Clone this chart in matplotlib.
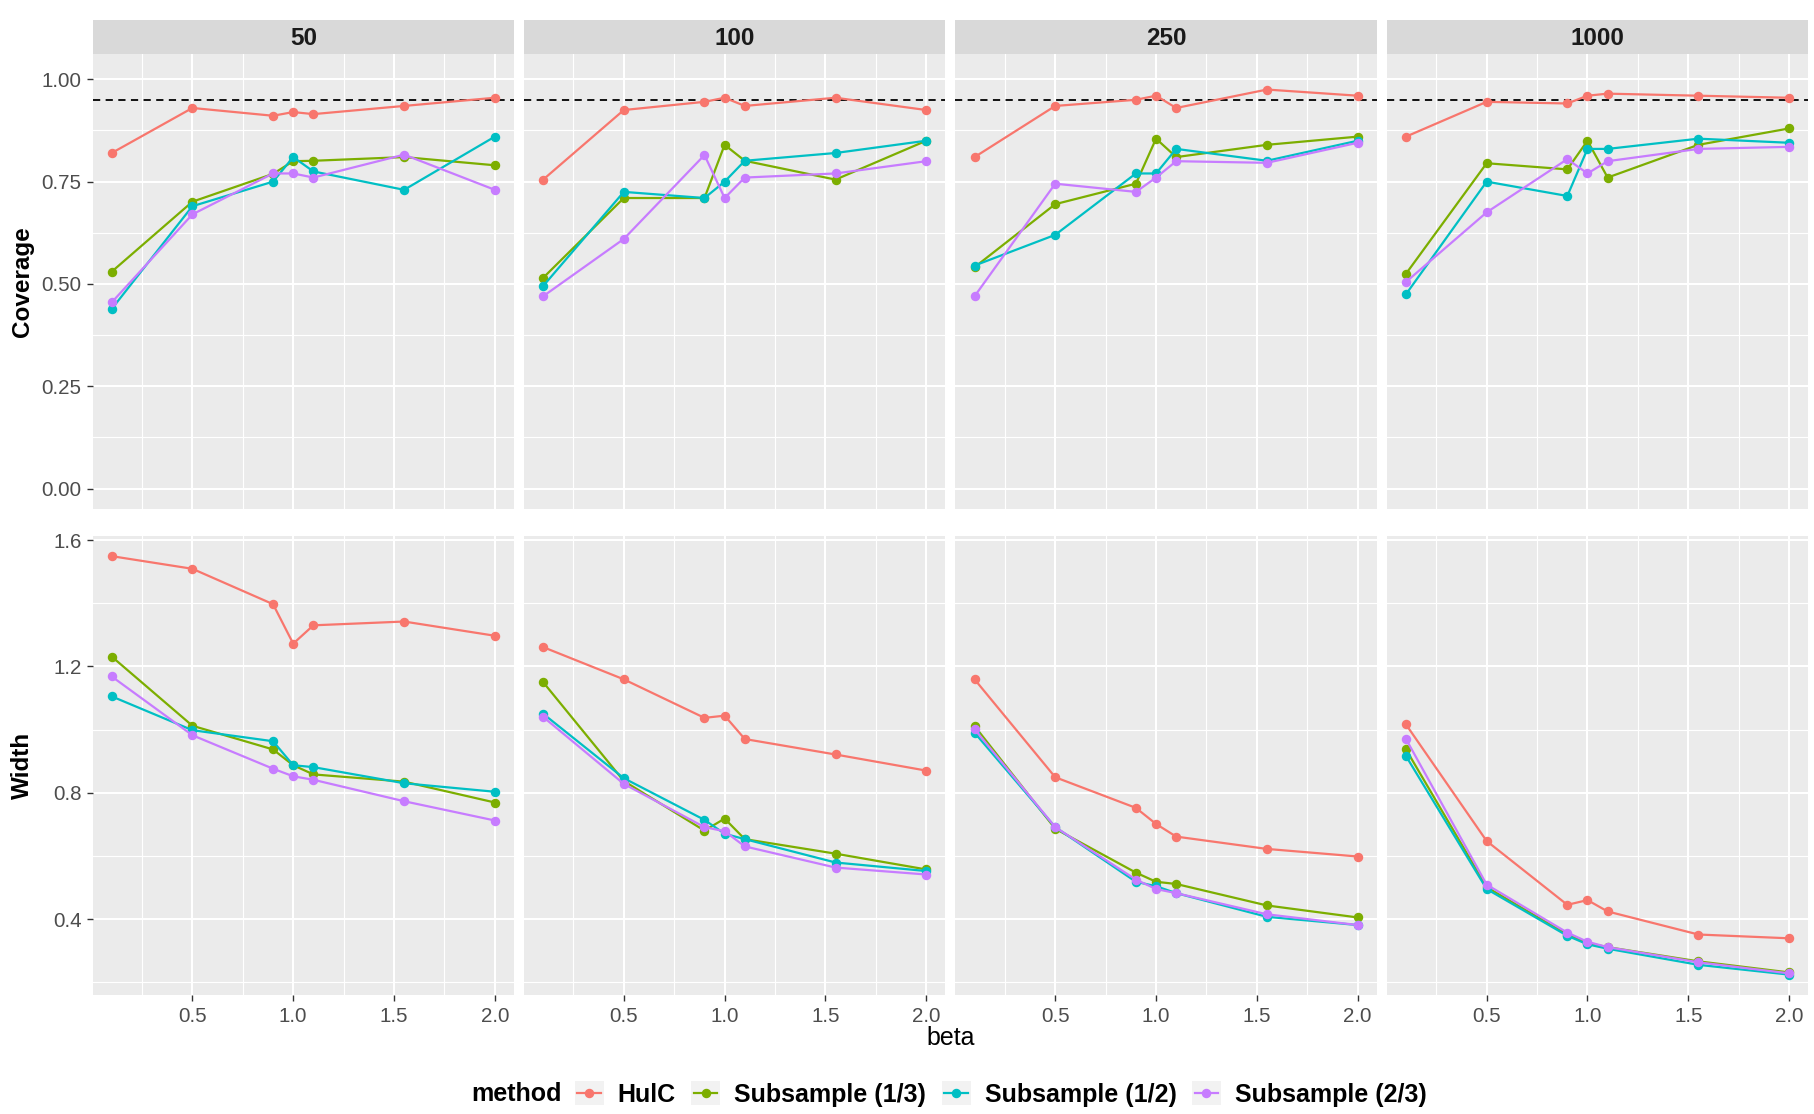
import matplotlib
matplotlib.use("Agg")
from matplotlib import pyplot as plt
from matplotlib.lines import Line2D
from matplotlib.patches import Rectangle

plt.rcParams['font.family'] = ['Liberation Sans', 'DejaVu Sans']

beta = [0.1, 0.5, 0.9, 1.0, 1.1, 1.55, 2.0]
sizes = ["50", "100", "250", "1000"]
methods = ["HulC", "Subsample (1/3)", "Subsample (1/2)", "Subsample (2/3)"]
colors = ["#F8766D", "#7CAE00", "#00BFC4", "#C77CFF"]

# coverage, one row per sample size
cov_hulc = [[0.820, 0.930, 0.911, 0.920, 0.915, 0.935, 0.955],
            [0.755, 0.925, 0.945, 0.955, 0.935, 0.955, 0.925],
            [0.810, 0.935, 0.950, 0.960, 0.930, 0.975, 0.960],
            [0.860, 0.945, 0.941, 0.960, 0.965, 0.960, 0.955]]
cov_sub13 = [[0.530, 0.701, 0.769, 0.800, 0.801, 0.810, 0.790],
             [0.515, 0.710, 0.710, 0.840, 0.801, 0.755, 0.850],
             [0.541, 0.695, 0.745, 0.855, 0.810, 0.840, 0.860],
             [0.525, 0.795, 0.780, 0.850, 0.760, 0.840, 0.880]]
cov_sub12 = [[0.439, 0.690, 0.750, 0.810, 0.775, 0.730, 0.860],
             [0.495, 0.725, 0.710, 0.750, 0.801, 0.820, 0.850],
             [0.545, 0.620, 0.770, 0.770, 0.830, 0.801, 0.850],
             [0.475, 0.750, 0.715, 0.830, 0.830, 0.855, 0.845]]
cov_sub23 = [[0.455, 0.670, 0.770, 0.770, 0.760, 0.816, 0.730],
             [0.470, 0.610, 0.815, 0.710, 0.760, 0.770, 0.800],
             [0.470, 0.745, 0.725, 0.760, 0.800, 0.796, 0.845],
             [0.505, 0.675, 0.805, 0.770, 0.800, 0.830, 0.835]]

# interval width, one row per sample size
wid_hulc = [[1.549, 1.509, 1.397, 1.272, 1.330, 1.342, 1.297],
            [1.261, 1.159, 1.037, 1.044, 0.970, 0.921, 0.870],
            [1.159, 0.849, 0.752, 0.701, 0.661, 0.622, 0.598],
            [1.016, 0.647, 0.445, 0.460, 0.424, 0.351, 0.339]]
wid_sub13 = [[1.231, 1.012, 0.937, 0.887, 0.858, 0.835, 0.769],
             [1.150, 0.837, 0.680, 0.718, 0.653, 0.607, 0.557],
             [1.011, 0.686, 0.547, 0.518, 0.511, 0.443, 0.405],
             [0.937, 0.501, 0.351, 0.324, 0.311, 0.266, 0.231]]
wid_sub12 = [[1.105, 0.998, 0.963, 0.887, 0.881, 0.830, 0.803],
             [1.050, 0.846, 0.714, 0.670, 0.653, 0.579, 0.552],
             [0.990, 0.691, 0.518, 0.504, 0.482, 0.407, 0.381],
             [0.916, 0.495, 0.347, 0.320, 0.306, 0.255, 0.224]]
wid_sub23 = [[1.168, 0.982, 0.876, 0.852, 0.841, 0.773, 0.712],
             [1.040, 0.828, 0.691, 0.678, 0.630, 0.563, 0.541],
             [1.001, 0.691, 0.525, 0.495, 0.482, 0.415, 0.381],
             [0.970, 0.509, 0.357, 0.328, 0.311, 0.263, 0.228]]

coverage = [cov_hulc, cov_sub13, cov_sub12, cov_sub23]
width = [wid_hulc, wid_sub13, wid_sub12, wid_sub23]

fig = plt.figure(figsize=(18.15, 11.14), dpi=100)

left = 0.051
pw = 0.2322
gap = 0.0055
top_row = (0.5428, 0.9512)
bot_row = (0.1064, 0.5189)
strip_h = 0.9823 - 0.9512

def style(ax):
    ax.set_facecolor("#EBEBEB")
    for s in ax.spines.values():
        s.set_visible(False)
    ax.set_xlim(0.005, 2.095)
    ax.set_xticks([0.5, 1.0, 1.5, 2.0])
    ax.set_xticks([0.25, 0.75, 1.25, 1.75], minor=True)
    ax.grid(which="major", color="white", lw=1.5)
    ax.grid(which="minor", color="white", lw=0.8)
    ax.set_axisbelow(True)
    ax.tick_params(which="minor", length=0)
    ax.tick_params(which="major", length=4.5, width=1.0, color="#333333",
                   labelsize=14.8, labelcolor="#4D4D4D", pad=3.5)

for j in range(4):
    x0 = left + j * (pw + gap)
    ax1 = fig.add_axes([x0, top_row[0], pw, top_row[1] - top_row[0]])
    ax2 = fig.add_axes([x0, bot_row[0], pw, bot_row[1] - bot_row[0]])
    style(ax1)
    style(ax2)

    ax1.axhline(0.95, color="black", ls=(0, (4, 3)), lw=1.3, zorder=1)
    for m in range(4):
        ax1.plot(beta, coverage[m][j], color=colors[m], lw=1.6,
                 marker="o", ms=5.8, zorder=3)
        ax2.plot(beta, width[m][j], color=colors[m], lw=1.6,
                 marker="o", ms=5.8, zorder=3)

    ax1.set_ylim(-0.0506, 1.061)
    ax1.set_yticks([0.0, 0.25, 0.5, 0.75, 1.0])
    ax1.set_yticks([0.125, 0.375, 0.625, 0.875], minor=True)
    ax2.set_ylim(0.158, 1.613)
    ax2.set_yticks([0.4, 0.8, 1.2, 1.6])
    ax2.set_yticks([0.2, 0.6, 1.0, 1.4], minor=True)

    ax1.tick_params(axis="x", which="both", bottom=False, labelbottom=False)
    if j == 0:
        ax1.set_yticklabels(["0.00", "0.25", "0.50", "0.75", "1.00"])
        ax2.set_yticklabels(["0.4", "0.8", "1.2", "1.6"])
    else:
        ax1.tick_params(axis="y", which="both", left=False, labelleft=False)
        ax2.tick_params(axis="y", which="both", left=False, labelleft=False)

    strip = fig.add_axes([x0, 0.9512, pw, strip_h])
    strip.set_facecolor("#D9D9D9")
    strip.set_xticks([])
    strip.set_yticks([])
    for s in strip.spines.values():
        s.set_visible(False)
    strip.text(0.5, 0.47, sizes[j], ha="center", va="center", fontsize=17.5,
               fontweight="bold", color="#1A1A1A", transform=strip.transAxes)

fig.text(0.0125, (top_row[0] + top_row[1]) / 2, "Coverage", rotation=90,
         ha="center", va="center", fontsize=17.5, fontweight="bold")
fig.text(0.0125, (bot_row[0] + bot_row[1]) / 2, "Width", rotation=90,
         ha="center", va="center", fontsize=17.5, fontweight="bold")
fig.text(0.5236, 0.068, "beta", ha="center", va="center", fontsize=18)


class KeyHandler:
    # grey key box with a line and a point, like a ggplot legend key
    def legend_artist(self, legend, orig_handle, fontsize, handlebox):
        x0, y0 = -handlebox.xdescent, -handlebox.ydescent
        w, h = handlebox.width, handlebox.height
        tr = handlebox.get_transform()
        c = orig_handle.get_color()
        rect = Rectangle((x0, y0), w, h, facecolor="#F2F2F2",
                         edgecolor="none", transform=tr)
        ln = Line2D([x0 + 2, x0 + w - 2], [y0 + h / 2] * 2, color=c, lw=1.6,
                    transform=tr)
        pt = Line2D([x0 + w / 2], [y0 + h / 2], color=c, marker="o", ms=5.8,
                    ls="none", transform=tr)
        handlebox.add_artist(rect)
        handlebox.add_artist(ln)
        handlebox.add_artist(pt)
        return rect


handles = [Line2D([], [], color=c) for c in colors]
ly = 0.018
title = fig.text(0.3, ly, "method", ha="left", va="center", fontsize=18,
                 fontweight="bold")
leg = fig.legend(handles, methods, handler_map={Line2D: KeyHandler()},
                 loc="center left", bbox_to_anchor=(0.35, ly), ncol=4,
                 frameon=False, handlelength=1.16, handleheight=1.12,
                 handletextpad=0.56, columnspacing=0.62, borderpad=0.0,
                 borderaxespad=0.0, prop={"size": 18, "weight": "bold"})

fig.canvas.draw()
r = fig.canvas.get_renderer()
fw = fig.bbox.width
tw = title.get_window_extent(r).width / fw
lw_ = leg.get_window_extent(r).width / fw
pad = 13 / fw
start = 0.5228 - (tw + pad + lw_) / 2
title.set_x(start)
leg.set_bbox_to_anchor((start + tw + pad, ly), transform=fig.transFigure)

fig.savefig("out.png", dpi=100)
